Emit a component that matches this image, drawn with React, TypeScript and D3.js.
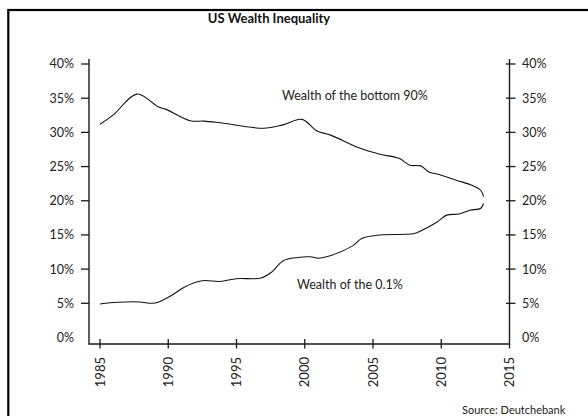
import React, { useEffect, useRef } from 'react';
import * as d3 from 'd3';

// Share of total US wealth, in percent
const bottom90Years = [1985, 1986, 1987.7, 1989.3, 1989.8, 1991.6, 1992.6, 1993.8, 1997.0, 1998.4, 1999.8, 2000.9, 2001.9, 2003.9, 2005.5, 2006.9, 2007.7, 2008.5, 2009.1, 2009.7, 2011.1, 2012.2, 2012.9, 2013.1];
const bottom90Values = [31.2, 32.6, 35.6, 33.7, 33.4, 31.7, 31.65, 31.4, 30.6, 31.1, 31.9, 30.2, 29.6, 27.8, 26.8, 26.2, 25.2, 25.1, 24.2, 23.9, 23.0, 22.3, 21.5, 20.6];

const top01Years = [1985, 1986.3, 1987.9, 1988.8, 1989.3, 1990.2, 1991.2, 1992.5, 1993.8, 1995, 1996.8, 1997.6, 1998.4, 1999.5, 2000.4, 2001.0, 2001.6, 2003.5, 2004.2, 2005.5, 2008.0, 2008.6, 2009.7, 2010.4, 2011.3, 2012.1, 2012.9, 2013.1];
const top01Values = [4.9, 5.15, 5.2, 5.0, 5.2, 6.1, 7.4, 8.3, 8.2, 8.6, 8.7, 9.6, 11.2, 11.7, 11.8, 11.6, 11.8, 13.4, 14.5, 15.0, 15.2, 15.7, 16.9, 17.9, 18.05, 18.6, 18.9, 19.6];

const yearTicks = [1985, 1990, 1995, 2000, 2005, 2010, 2015];
const percentTicks = [0, 5, 10, 15, 20, 25, 30, 35, 40];

const FONT = 'Lato, "Open Sans", sans-serif';

const App = () => {
  const svgRef = useRef<SVGSVGElement | null>(null);

  useEffect(() => {
    document.body.style.margin = '0';
    document.body.style.overflow = 'hidden';
    if (!svgRef.current) return;
    const svg = d3.select(svgRef.current);
    svg.selectAll('*').remove();

    const left = 89;
    const right = 509.5;
    const axisTop = 59;
    const axisBottom = 344;

    const x = d3.scaleLinear().domain([1985, 2015]).range([100, right]);
    const y = d3.scaleLinear().domain([0, 40]).range([337.5, 64]);

    // Frame (runs off the right and bottom edges)
    svg.append('rect')
      .attr('x', 8.3)
      .attr('y', 10)
      .attr('width', 620)
      .attr('height', 440)
      .attr('fill', 'none')
      .attr('stroke', '#000')
      .attr('stroke-width', 2.2);

    // Title
    svg.append('text')
      .attr('x', 269)
      .attr('y', 23)
      .attr('text-anchor', 'middle')
      .style('font-family', FONT)
      .style('font-size', '13px')
      .style('font-weight', '700')
      .style('fill', '#111')
      .text('US Wealth Inequality');

    const axisColor = '#1a1a1a';

    // Axis lines
    svg.append('path')
      .attr('d', `M${left},${axisTop}V${axisBottom}H${right}V${axisTop}`)
      .attr('fill', 'none')
      .attr('stroke', axisColor)
      .attr('stroke-width', 1.4);

    // Left ticks and labels
    const leftG = svg.append('g');
    leftG.selectAll('line')
      .data(percentTicks.filter(d => d > 0))
      .enter().append('line')
      .attr('x1', left - 8)
      .attr('x2', left)
      .attr('y1', d => y(d))
      .attr('y2', d => y(d))
      .attr('stroke', axisColor)
      .attr('stroke-width', 1.3);
    leftG.selectAll('text')
      .data(percentTicks)
      .enter().append('text')
      .attr('x', 74)
      .attr('y', d => y(d))
      .attr('dy', '0.35em')
      .attr('text-anchor', 'end')
      .style('font-family', FONT)
      .style('font-size', '12.5px')
      .style('fill', '#222')
      .text(d => `${d}%`);

    // Right ticks and labels
    const rightG = svg.append('g');
    rightG.selectAll('line')
      .data(percentTicks.filter(d => d > 0))
      .enter().append('line')
      .attr('x1', right - 3.5)
      .attr('x2', right + 6)
      .attr('y1', d => y(d))
      .attr('y2', d => y(d))
      .attr('stroke', axisColor)
      .attr('stroke-width', 1.3);
    rightG.selectAll('text')
      .data(percentTicks)
      .enter().append('text')
      .attr('x', 522)
      .attr('y', d => y(d))
      .attr('dy', '0.35em')
      .style('font-family', FONT)
      .style('font-size', '12.5px')
      .style('fill', '#222')
      .text(d => `${d}%`);

    // Bottom ticks and labels
    const bottomG = svg.append('g');
    bottomG.selectAll('line')
      .data(yearTicks)
      .enter().append('line')
      .attr('x1', d => x(d))
      .attr('x2', d => x(d))
      .attr('y1', d => (d === 2015 ? axisBottom : axisBottom - 5))
      .attr('y2', axisBottom + 4.5)
      .attr('stroke', axisColor)
      .attr('stroke-width', 1.3);
    bottomG.selectAll('text')
      .data(yearTicks)
      .enter().append('text')
      .attr('transform', d => `translate(${x(d)},357) rotate(-90)`)
      .attr('dy', '0.35em')
      .attr('text-anchor', 'end')
      .style('font-family', FONT)
      .style('font-size', '13px')
      .style('fill', '#222')
      .text(d => d);

    // Series lines
    const line = d3.line<[number, number]>()
      .x(d => x(d[0]))
      .y(d => y(d[1]))
      .curve(d3.curveCatmullRom.alpha(0.5));

    const series: [number, number][][] = [
      bottom90Years.map((yr, i) => [yr, bottom90Values[i]]),
      top01Years.map((yr, i) => [yr, top01Values[i]])
    ];

    svg.selectAll('.series')
      .data(series)
      .enter().append('path')
      .attr('class', 'series')
      .attr('d', d => line(d))
      .attr('fill', 'none')
      .attr('stroke', '#111')
      .attr('stroke-width', 1.1);

    // Series labels
    const labels = [
      { text: 'Wealth of the bottom 90%', x: 282, y: 100 },
      { text: 'Wealth of the 0.1%', x: 297, y: 289 }
    ];
    svg.selectAll('.series-label')
      .data(labels)
      .enter().append('text')
      .attr('class', 'series-label')
      .attr('x', d => d.x)
      .attr('y', d => d.y)
      .style('font-family', FONT)
      .style('font-size', '12.5px')
      .style('fill', '#222')
      .text(d => d.text);

    // Source note
    svg.append('text')
      .attr('x', 462)
      .attr('y', 414)
      .style('font-family', FONT)
      .style('font-size', '11px')
      .style('fill', '#222')
      .text('Source: Deutchebank');
  }, []);

  return (
    <svg
      ref={svgRef}
      width={588}
      height={416}
      style={{ position: 'fixed', left: 0, top: 0, background: '#fff', display: 'block' }}
    />
  );
};

export default App;
